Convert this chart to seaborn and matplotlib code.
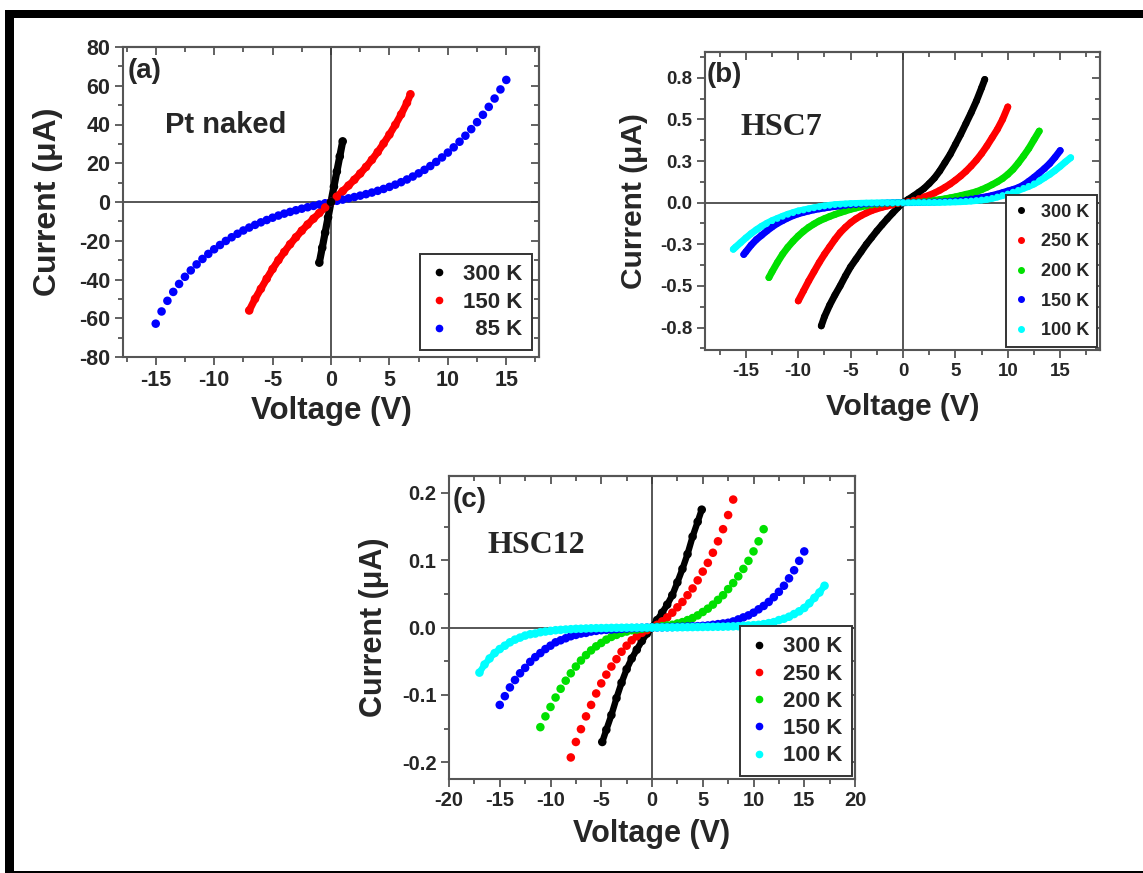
import matplotlib
matplotlib.use("Agg")
import numpy as np
import pandas as pd
import seaborn as sns
import matplotlib.pyplot as plt
from matplotlib.ticker import MultipleLocator, AutoMinorLocator, FixedLocator, FixedFormatter
from matplotlib.lines import Line2D
from matplotlib.patches import Rectangle

# ---------------- data: panel (a) Pt naked ----------------
Va300 = [-1.0, -0.75, -0.5, -0.25, 0.0, 0.25, 0.5, 0.75, 1.0]
Ia300 = [-31.3, -23.6, -15.8, -7.9, 0.0, 7.9, 15.7, 23.5, 31.3]
Va150 = [-7.0, -6.5, -6.0, -5.5, -5.0, -4.5, -4.0, -3.5, -3.0, -2.5, -2.0, -1.5, -1.0, -0.5, 0.0,
         0.5, 1.0, 1.5, 2.0, 2.5, 3.0, 3.5, 4.0, 4.5, 5.0, 5.5, 6.0, 6.5, 6.8]
Ia150 = [-56.0, -50.0, -44.8, -39.6, -34.6, -30.0, -25.8, -21.8, -18.2, -14.8, -11.6, -8.6, -5.7, -2.8, 0.0,
         2.8, 5.6, 8.5, 11.5, 14.7, 18.1, 21.8, 25.8, 30.2, 34.8, 39.8, 45.2, 51.2, 55.6]
V15 = [-15.0, -14.5, -14.0, -13.5, -13.0, -12.5, -12.0, -11.5, -11.0, -10.5,
       -10.0, -9.5, -9.0, -8.5, -8.0, -7.5, -7.0, -6.5, -6.0, -5.5,
       -5.0, -4.5, -4.0, -3.5, -3.0, -2.5, -2.0, -1.5, -1.0, -0.5, 0.0,
       0.5, 1.0, 1.5, 2.0, 2.5, 3.0, 3.5, 4.0, 4.5, 5.0,
       5.5, 6.0, 6.5, 7.0, 7.5, 8.0, 8.5, 9.0, 9.5, 10.0,
       10.5, 11.0, 11.5, 12.0, 12.5, 13.0, 13.5, 14.0, 14.5, 15.0]
Ia85 = [-62.8, -56.5, -51.0, -46.4, -42.3, -38.6, -35.3, -32.2, -29.4, -26.8,
        -24.4, -22.2, -20.1, -18.2, -16.4, -14.7, -13.2, -11.8, -10.5, -9.3,
        -8.1, -7.0, -6.0, -5.1, -4.25, -3.45, -2.7, -2.0, -1.3, -0.65, 0.0,
        0.62, 1.24, 1.89, 2.57, 3.28, 4.05, 4.87, 5.77, 6.74, 7.80,
        8.96, 10.23, 11.62, 13.14, 14.79, 16.6, 18.56, 20.69, 23.0, 25.5,
        28.2, 31.1, 34.2, 37.6, 41.2, 45.0, 49.1, 53.4, 58.1, 63.0]

# ---------------- data: panel (b) HSC7 ----------------
Vb300 = [-7.8, -7.5, -7.0, -6.5, -6.0, -5.5, -5.0, -4.5, -4.0, -3.5, -3.0, -2.5, -2.0, -1.5, -1.0, -0.5, 0.0,
         0.5, 1.0, 1.5, 2.0, 2.5, 3.0, 3.5, 4.0, 4.5, 5.0, 5.5, 6.0, 6.5, 7.0, 7.5, 7.8]
Ib300 = [-0.74, -0.685, -0.615, -0.555, -0.50, -0.44, -0.385, -0.34, -0.295, -0.25, -0.21, -0.17, -0.133, -0.097,
         -0.063, -0.03, 0.0,
         0.02, 0.04, 0.062, 0.085, 0.115, 0.148, 0.19, 0.24, 0.29, 0.35, 0.41, 0.475, 0.54, 0.61, 0.69, 0.74]
V10 = [-10.0, -9.5, -9.0, -8.5, -8.0, -7.5, -7.0, -6.5, -6.0, -5.5,
       -5.0, -4.5, -4.0, -3.5, -3.0, -2.5, -2.0, -1.5, -1.0, -0.5, 0.0,
       0.5, 1.0, 1.5, 2.0, 2.5, 3.0, 3.5, 4.0, 4.5, 5.0,
       5.5, 6.0, 6.5, 7.0, 7.5, 8.0, 8.5, 9.0, 9.5, 10.0]
Ib250 = [-0.59, -0.53, -0.47, -0.415, -0.36, -0.31, -0.265, -0.22, -0.18, -0.148,
         -0.12, -0.097, -0.078, -0.062, -0.048, -0.037, -0.028, -0.02, -0.013, -0.006, 0.0,
         0.007, 0.015, 0.024, 0.034, 0.045, 0.058, 0.074, 0.092, 0.112, 0.135,
         0.16, 0.188, 0.22, 0.255, 0.295, 0.34, 0.39, 0.44, 0.50, 0.575]
Vb200 = [-12.8, -12.5, -12.0, -11.5, -11.0, -10.5, -10.0, -9.5, -9.0, -8.5, -8.0, -7.5, -7.0, -6.5, -6.0, -5.5,
         -5.0, -4.5, -4.0, -3.5, -3.0, -2.5, -2.0, -1.5, -1.0, -0.5, 0.0,
         0.5, 1.0, 1.5, 2.0, 2.5, 3.0, 3.5, 4.0, 4.5, 5.0, 5.5, 6.0, 6.5, 7.0, 7.5, 8.0,
         8.5, 9.0, 9.5, 10.0, 10.5, 11.0, 11.5, 12.0, 12.5, 13.0]
Ib200 = [-0.45, -0.415, -0.36, -0.31, -0.268, -0.232, -0.2, -0.172, -0.148, -0.128, -0.11, -0.096, -0.083,
         -0.071, -0.06, -0.05, -0.04, -0.032, -0.025, -0.019, -0.014, -0.011, -0.008, -0.006, -0.004, -0.002, 0.0,
         0.002, 0.004, 0.006, 0.008, 0.011, 0.014, 0.018, 0.023, 0.029, 0.035, 0.042, 0.05, 0.057, 0.066, 0.078,
         0.092, 0.108, 0.125, 0.145, 0.17, 0.2, 0.238, 0.28, 0.325, 0.378, 0.43]
Vb150 = [-15.2] + V15
Ib150 = [-0.311, -0.295, -0.255, -0.222, -0.196, -0.17, -0.146, -0.125, -0.108, -0.092, -0.078,
         -0.067, -0.058, -0.05, -0.043, -0.037, -0.032, -0.027, -0.023, -0.02, -0.017,
         -0.014, -0.012, -0.01, -0.008, -0.006, -0.005, -0.004, -0.003, -0.002, -0.001, 0.0,
         0.001, 0.001, 0.002, 0.003, 0.004, 0.005, 0.006, 0.008, 0.01, 0.012,
         0.015, 0.018, 0.022, 0.026, 0.031, 0.036, 0.043, 0.051, 0.06, 0.07,
         0.079, 0.09, 0.106, 0.128, 0.152, 0.178, 0.205, 0.235, 0.272, 0.313]
Vb100 = [-16.2, -16.0, -15.5] + V15 + [15.5, 16.0]
Ib100 = [-0.28, -0.268, -0.24, -0.212, -0.186, -0.163, -0.142, -0.124, -0.108, -0.095, -0.082, -0.07, -0.06,
         -0.05, -0.044, -0.037, -0.031, -0.025, -0.02, -0.016, -0.012, -0.01, -0.008,
         -0.006, -0.005, -0.004, -0.003, -0.0025, -0.002, -0.0015, -0.001, -0.001, -0.0005, 0.0,
         0.0003, 0.0005, 0.001, 0.001, 0.0015, 0.002, 0.002, 0.003, 0.004, 0.005,
         0.006, 0.008, 0.01, 0.013, 0.016, 0.02, 0.026, 0.034, 0.043, 0.052,
         0.063, 0.074, 0.086, 0.098, 0.112, 0.13, 0.15, 0.17, 0.193, 0.218, 0.245, 0.27]

# ---------------- data: panel (c) HSC12 ----------------
Vc300 = [-4.9, -4.5, -4.0, -3.5, -3.0, -2.5, -2.0, -1.5, -1.0, -0.5, 0.0,
         0.5, 1.0, 1.5, 2.0, 2.5, 3.0, 3.5, 4.0, 4.5, 4.9]
Ic300 = [-0.170, -0.152, -0.130, -0.105, -0.082, -0.062, -0.046, -0.033, -0.020, -0.009, 0.0,
         0.011, 0.022, 0.034, 0.048, 0.067, 0.087, 0.109, 0.135, 0.157, 0.175]
Vc250 = [-8.0, -7.5, -7.0, -6.5, -6.0, -5.5, -5.0, -4.5, -4.0, -3.5, -3.0, -2.5, -2.0, -1.5, -1.0, -0.5, 0.0,
         0.5, 1.0, 1.5, 2.0, 2.5, 3.0, 3.5, 4.0, 4.5, 5.0, 5.5, 6.0, 6.5, 7.0, 7.5, 8.0]
Ic250 = [-0.193, -0.17, -0.151, -0.132, -0.115, -0.098, -0.083, -0.07, -0.058, -0.047, -0.036, -0.027,
         -0.019, -0.013, -0.008, -0.004, 0.0,
         0.004, 0.009, 0.015, 0.022, 0.03, 0.038, 0.048, 0.058, 0.07, 0.083, 0.096, 0.111, 0.128, 0.146, 0.167, 0.19]
Vc200 = [-11.0, -10.5] + V10 + [10.5, 11.0]
Ic200 = [-0.148, -0.132, -0.118, -0.104, -0.091, -0.079, -0.068, -0.058, -0.049, -0.041, -0.034,
         -0.028, -0.023, -0.018, -0.014, -0.011, -0.008, -0.006, -0.004, -0.003, -0.002, -0.001, 0.0,
         0.001, 0.002, 0.003, 0.004, 0.006, 0.008, 0.011, 0.014, 0.018, 0.023, 0.028,
         0.034, 0.041, 0.048, 0.057, 0.066, 0.076, 0.087, 0.099, 0.113, 0.128, 0.146]
Ic150 = [-0.115, -0.102, -0.089, -0.078, -0.068, -0.06, -0.051, -0.044, -0.038, -0.032,
         -0.027, -0.022, -0.019, -0.016, -0.013, -0.011, -0.009, -0.008, -0.006, -0.005,
         -0.004, -0.0035, -0.003, -0.0025, -0.002, -0.0015, -0.001, -0.0008, -0.0005, -0.0002, 0.0,
         0.0002, 0.0003, 0.0005, 0.0007, 0.001, 0.0012, 0.0015, 0.0018, 0.002, 0.0025,
         0.003, 0.004, 0.005, 0.006, 0.007, 0.009, 0.012, 0.015, 0.018, 0.022,
         0.027, 0.032, 0.038, 0.045, 0.053, 0.062, 0.073, 0.085, 0.099, 0.113]
Vc100 = [-17.0, -16.5, -16.0, -15.5] + V15 + [15.5, 16.0, 16.5, 17.0]
Ic100 = [-0.067, -0.055, -0.046, -0.038, -0.032, -0.027, -0.022, -0.018, -0.015, -0.012,
         -0.01, -0.009, -0.007, -0.006, -0.005, -0.004, -0.0035, -0.003, -0.0025, -0.002,
         -0.0018, -0.0015, -0.0012, -0.001, -0.0009, -0.0008, -0.0006, -0.0005, -0.0004, -0.0003,
         -0.0002, -0.0002, -0.0001, -0.0001, 0.0,
         0.0001, 0.0001, 0.0002, 0.0002,
         0.0003, 0.0004, 0.0005, 0.0006, 0.0007, 0.0008, 0.0009, 0.001, 0.0011, 0.0012,
         0.0014, 0.0017, 0.002, 0.0025, 0.003, 0.0035, 0.004, 0.005, 0.0065, 0.008,
         0.011, 0.013, 0.016, 0.02, 0.024, 0.029, 0.036, 0.044, 0.052, 0.062]

labels_a = ["300 K", "150 K", "85 K"]
labels_bc = ["300 K", "250 K", "200 K", "150 K", "100 K"]
colors_a = ["#000000", "#ff0000", "#0000ff"]
colors_bc = ["#000000", "#ff0000", "#00e000", "#0000ff", "#00ffff"]

b_yticks = [-0.75, -0.5, -0.25, 0.0, 0.25, 0.5, 0.75]
b_yticklabels = ["-0.8", "-0.5", "-0.3", "0.0", "0.3", "0.5", "0.8"]

# ---------------- style ----------------
sns.set_style("ticks")
plt.rcParams["font.family"] = ["Liberation Sans", "DejaVu Sans"]
plt.rcParams["font.weight"] = "bold"
plt.rcParams["axes.unicode_minus"] = False

fig = plt.figure(figsize=(11.43, 8.73), dpi=100)
W, H = 1143.0, 873.0


def px_axes(l, r, t, b):
    return fig.add_axes([l / W, 1 - b / H, (r - l) / W, (b - t) / H])


def build(series):
    frames = []
    for lab, V, I in series:
        assert len(V) == len(I), (lab, len(V), len(I))
        frames.append(pd.DataFrame({"V": V, "I": I, "T": lab}))
    return pd.concat(frames, ignore_index=True)


def panel(ax, series, labels, colors, dense, s, lw, xlim, ylim, xmaj, ymaj,
          tick_fs, lab_fs_x, lab_fs_y, leg_fs, leg_ms, leg_pad, leg_space, draw_order,
          xpad, ypad):
    pal = dict(zip(labels, colors))
    df = build([series[i] for i in draw_order])
    ax.axhline(0, color="#3a3a3a", lw=1.2, zorder=1)
    ax.axvline(0, color="#3a3a3a", lw=1.2, zorder=1)
    dd = df[df["T"].isin(dense)]
    if len(dd):
        sns.lineplot(data=dd, x="V", y="I", hue="T", palette=pal, estimator=None, sort=False,
                     units="T", lw=lw, legend=False, ax=ax, zorder=2, solid_capstyle="round")
    sns.scatterplot(data=df, x="V", y="I", hue="T", palette=pal, s=s, linewidth=0,
                    legend=False, ax=ax, zorder=3)
    ax.set_xlim(*xlim)
    ax.set_ylim(*ylim)
    ax.xaxis.set_major_locator(MultipleLocator(xmaj))
    ax.xaxis.set_minor_locator(AutoMinorLocator(2))
    ax.yaxis.set_major_locator(MultipleLocator(ymaj))
    ax.yaxis.set_minor_locator(AutoMinorLocator(2))
    for sp in ax.spines.values():
        sp.set_visible(True)
        sp.set_color("#555555")
        sp.set_linewidth(1.5)
    ax.tick_params(which="both", direction="out", color="#555555", width=1.3,
                   labelsize=tick_fs, pad=3)
    ax.tick_params(which="major", length=6)
    ax.tick_params(which="minor", length=3.5)
    for side in ("top", "right"):
        if side == "top":
            sec = ax.secondary_xaxis("top")
            axis = sec.xaxis
            sec.tick_params(which="both", direction="in", labeltop=False, color="#555555", width=1.3)
        else:
            sec = ax.secondary_yaxis("right")
            axis = sec.yaxis
            sec.tick_params(which="both", direction="in", labelright=False, color="#555555", width=1.3)
        axis.set_major_locator(MultipleLocator(xmaj if side == "top" else ymaj))
        axis.set_minor_locator(AutoMinorLocator(2))
        sec.tick_params(which="major", length=6)
        sec.tick_params(which="minor", length=3.5)
        for sp in sec.spines.values():
            sp.set_color("#555555")
            sp.set_linewidth(1.5)
    for t in ax.get_xticklabels() + ax.get_yticklabels():
        t.set_fontweight("bold")
    ax.set_xlabel("Voltage (V)", fontsize=lab_fs_x, fontweight="bold", labelpad=xpad)
    ax.set_ylabel("Current (\u03bcA)", fontsize=lab_fs_y, fontweight="bold", labelpad=ypad)
    handles = [Line2D([], [], marker="o", ls="none", color=c, markersize=leg_ms) for c in colors]
    shown = [l if len(l) == 5 else "  " + l for l in labels]
    leg = ax.legend(handles, shown, loc="lower right", frameon=True, fancybox=False,
                    edgecolor="#333333", framealpha=1, borderaxespad=leg_pad, handlelength=0.8,
                    handletextpad=0.7, labelspacing=leg_space, borderpad=0.45,
                    prop={"weight": "bold", "size": leg_fs})
    leg.get_frame().set_linewidth(1.4)
    leg.set_zorder(5)


# panel (a)
ax_a = px_axes(123, 539, 47, 357)
series_a = [(labels_a[0], Va300, Ia300), (labels_a[1], Va150, Ia150), (labels_a[2], V15, Ia85)]
panel(ax_a, series_a, labels_a, colors_a, dense=[labels_a[0], labels_a[1]], s=38, lw=5.2,
      xlim=(-17.8, 17.8), ylim=(-80, 80), xmaj=5, ymaj=20, tick_fs=15.5, lab_fs_x=22.5, lab_fs_y=23,
      leg_fs=16, leg_ms=4.5, leg_pad=0.3, leg_space=0.3, draw_order=[2, 1, 0], xpad=4, ypad=12)
ax_a.text(0.012, 0.965, "(a)", transform=ax_a.transAxes, fontsize=20, fontweight="bold", va="top", ha="left")
ax_a.text(0.10, 0.748, "Pt naked", transform=ax_a.transAxes, fontsize=21, fontweight="bold", va="center", ha="left")

# panel (b)
ax_b = px_axes(705, 1100, 52, 350)
series_b = [(labels_bc[0], Vb300, Ib300), (labels_bc[1], V10, Ib250), (labels_bc[2], Vb200, Ib200),
            (labels_bc[3], Vb150, Ib150), (labels_bc[4], Vb100, Ib100)]
panel(ax_b, series_b, labels_bc, colors_bc, dense=labels_bc, s=24, lw=5.0,
      xlim=(-18.9, 18.8), ylim=(-0.885, 0.905), xmaj=5, ymaj=0.25, tick_fs=13.5, lab_fs_x=21.5, lab_fs_y=21.5,
      leg_fs=13, leg_ms=4, leg_pad=0.15, leg_space=0.7, draw_order=[0, 1, 2, 3, 4], xpad=10, ypad=9)
ax_b.yaxis.set_major_locator(FixedLocator(b_yticks))
ax_b.yaxis.set_major_formatter(FixedFormatter(b_yticklabels))
ax_b.text(0.005, 0.966, "(b)", transform=ax_b.transAxes, fontsize=20, fontweight="bold", va="top", ha="left")
ax_b.text(0.089, 0.748, "HSC7", transform=ax_b.transAxes, fontsize=23, fontweight="bold", va="center",
          ha="left", family="Liberation Serif")

# panel (c)
ax_c = px_axes(449, 855, 476, 779)
series_c = [(labels_bc[0], Vc300, Ic300), (labels_bc[1], Vc250, Ic250), (labels_bc[2], Vc200, Ic200),
            (labels_bc[3], V15, Ic150), (labels_bc[4], Vc100, Ic100)]
panel(ax_c, series_c, labels_bc, colors_bc, dense=[labels_bc[0], labels_bc[4]], s=38, lw=4.6,
      xlim=(-20, 20), ylim=(-0.225, 0.225), xmaj=5, ymaj=0.1, tick_fs=14.5, lab_fs_x=22, lab_fs_y=22,
      leg_fs=16, leg_ms=4.5, leg_pad=0.12, leg_space=0.28, draw_order=[0, 1, 2, 3, 4], xpad=6, ypad=9)
ax_c.yaxis.set_major_formatter(plt.FuncFormatter(lambda v, p: f"{v:.1f}"))
ax_c.text(0.01, 0.964, "(c)", transform=ax_c.transAxes, fontsize=20, fontweight="bold", va="top", ha="left")
ax_c.text(0.094, 0.772, "HSC12", transform=ax_c.transAxes, fontsize=23, fontweight="bold", va="center",
          ha="left", family="Liberation Serif")

# outer black frame (cropped on right side)
fig.add_artist(Rectangle((5 / W, 1 - 18 / H), 1 - 5 / W, 8 / H, transform=fig.transFigure,
                         facecolor="black", edgecolor="none"))
fig.add_artist(Rectangle((5 / W, 0), 9 / W, 1 - 10 / H, transform=fig.transFigure,
                         facecolor="black", edgecolor="none"))
fig.add_artist(Rectangle((5 / W, 0), 1 - 5 / W, 2.5 / H, transform=fig.transFigure,
                         facecolor="black", edgecolor="none"))

fig.savefig("out.png", dpi=100)
